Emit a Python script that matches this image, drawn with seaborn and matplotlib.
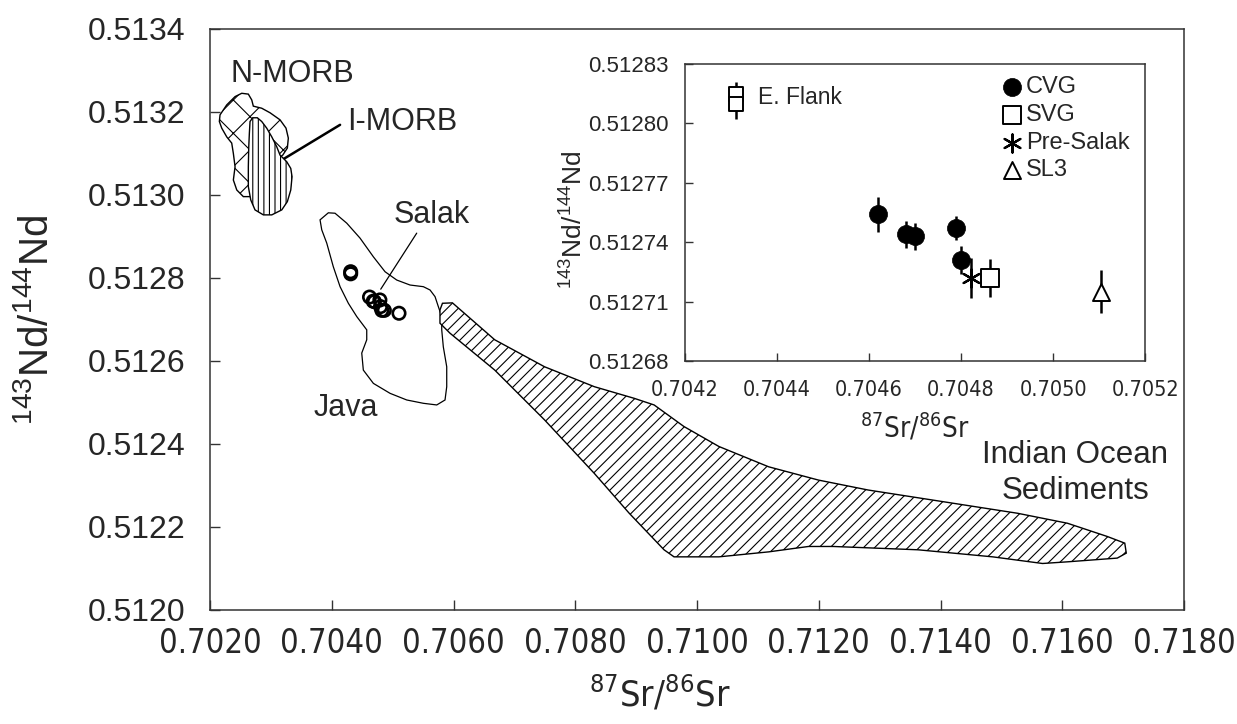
import matplotlib
matplotlib.use("Agg")
import matplotlib.pyplot as plt
import seaborn as sns
from matplotlib import font_manager
from matplotlib.ticker import FixedLocator, FormatStrFormatter

sns.set_style("ticks")
plt.rcParams["font.family"] = ["Liberation Sans", "DejaVu Sans"]
plt.rcParams["mathtext.fontset"] = "custom"
plt.rcParams["mathtext.rm"] = "Liberation Sans"
plt.rcParams["hatch.linewidth"] = 0.8
plt.rcParams["hatch.color"] = "black"


# condensed face for the Sr axes, if one is installed
def find_narrow():
    for fam, stretch in [("Liberation Sans Narrow", "normal"),
                         ("DejaVu Sans", "condensed")]:
        try:
            path = font_manager.findfont(
                font_manager.FontProperties(family=fam, stretch=stretch),
                fallback_to_default=False)
        except ValueError:
            continue
        if "Narrow" in path or "Condensed" in path:
            return fam, stretch
    return None


narrow = find_narrow()
if narrow:
    NARROW = dict(fontfamily=narrow[0], fontstretch=narrow[1])
    SHRINK = 1.0
else:
    NARROW = dict(fontfamily="Liberation Sans")
    SHRINK = 0.9

# ---- Salak samples: 87Sr/86Sr, 143Nd/144Nd and error on Nd ----
eflank_sr = [0.70431, 0.70431]
eflank_nd = [0.512815, 0.512810]
eflank_err = [0.000006, 0.000008]

cvg_sr = [0.70462, 0.70468, 0.70470, 0.70479, 0.70480]
cvg_nd = [0.512754, 0.512744, 0.512743, 0.512747, 0.512731]
cvg_err = [0.0000087, 0.0000067, 0.0000067, 0.000006, 0.000007]

svg_sr = [0.704863]
svg_nd = [0.512722]
svg_err = [0.0000095]

presalak_sr = [0.704822]
presalak_nd = [0.512722]
presalak_err = [0.00001]

sl3_sr = [0.705104]
sl3_nd = [0.512715]
sl3_err = [0.000011]

# ---- reference fields (outlines) ----
java_sr = [0.703807, 0.703943, 0.704053, 0.704246, 0.704464, 0.704683, 0.704875,
           0.705067, 0.705285, 0.705504, 0.705614, 0.705696, 0.705750, 0.705806,
           0.705806, 0.705832, 0.705888, 0.705888, 0.705860, 0.705724, 0.705504,
           0.705231, 0.704957, 0.704683, 0.704518, 0.704492, 0.704574, 0.704574,
           0.704410, 0.704272, 0.704136, 0.704025, 0.703917, 0.703835]
java_nd = [0.512940, 0.512957, 0.512956, 0.512932, 0.512896, 0.512851, 0.512815,
           0.512795, 0.512783, 0.512779, 0.512771, 0.512755, 0.512731, 0.512707,
           0.512675, 0.512634, 0.512586, 0.512538, 0.512506, 0.512494, 0.512498,
           0.512506, 0.512522, 0.512546, 0.512578, 0.512619, 0.512651, 0.512675,
           0.512707, 0.512739, 0.512779, 0.512827, 0.512884, 0.512916]

sed_sr = [0.705818, 0.705982, 0.706677, 0.707495, 0.708313, 0.708967, 0.709295,
          0.709785, 0.710358, 0.711176, 0.711994, 0.712812, 0.714039, 0.715266,
          0.716084, 0.716740, 0.717026, 0.717051, 0.716903, 0.716084, 0.715675,
          0.714857, 0.713630, 0.712239, 0.711830, 0.711176, 0.710358, 0.709622,
          0.709458, 0.708886, 0.708313, 0.707495, 0.706677, 0.705941, 0.705777,
          0.705777]
sed_nd = [0.512739, 0.512740, 0.512651, 0.512586, 0.512538, 0.512510, 0.512494,
          0.512442, 0.512394, 0.512345, 0.512313, 0.512289, 0.512261, 0.512233,
          0.512209, 0.512177, 0.512161, 0.512137, 0.512125, 0.512116, 0.512112,
          0.512128, 0.512145, 0.512153, 0.512153, 0.512140, 0.512128, 0.512128,
          0.512145, 0.512233, 0.512329, 0.512458, 0.512578, 0.512667, 0.512691,
          0.512723]

nmorb_sr = [0.702164, 0.702274, 0.702411, 0.702521, 0.702629, 0.702685, 0.702711,
            0.702849, 0.702986, 0.703150, 0.703248, 0.703286, 0.703270, 0.703194,
            0.703122, 0.702931, 0.702657, 0.702547, 0.702439, 0.702383, 0.702411,
            0.702383, 0.702356, 0.702274, 0.702192, 0.702153]
nmorb_nd = [0.513193, 0.513217, 0.513237, 0.513245, 0.513243, 0.513229, 0.513214,
            0.513209, 0.513198, 0.513181, 0.513161, 0.513137, 0.513113, 0.513096,
            0.513088, 0.513036, 0.512996, 0.512996, 0.513012, 0.513036, 0.513068,
            0.513100, 0.513125, 0.513140, 0.513161, 0.513177]

imorb_sr = [0.702657, 0.702701, 0.702777, 0.702849, 0.702931, 0.703014, 0.703096,
            0.703150, 0.703260, 0.703326, 0.703347, 0.703326, 0.703270, 0.703178,
            0.703014, 0.702876, 0.702739, 0.702669, 0.702629, 0.702629, 0.702636,
            0.702646]
imorb_nd = [0.513177, 0.513186, 0.513186, 0.513177, 0.513161, 0.513140, 0.513116,
            0.513096, 0.513080, 0.513064, 0.513044, 0.513012, 0.512984, 0.512964,
            0.512952, 0.512952, 0.512964, 0.512988, 0.513020, 0.513068, 0.513116,
            0.513149]

main_xticks = [0.7020, 0.7040, 0.7060, 0.7080, 0.7100, 0.7120, 0.7140, 0.7160, 0.7180]
main_yticks = [0.5120, 0.5122, 0.5124, 0.5126, 0.5128, 0.5130, 0.5132, 0.5134]
inset_xticks = [0.7042, 0.7044, 0.7046, 0.7048, 0.7050, 0.7052]
inset_yticks = [0.51268, 0.51271, 0.51274, 0.51277, 0.51280, 0.51283]

all_sr = eflank_sr + cvg_sr + svg_sr + presalak_sr + sl3_sr
all_nd = eflank_nd + cvg_nd + svg_nd + presalak_nd + sl3_nd

SR = r"$^{\mathregular{87}}$Sr/$^{\mathregular{86}}$Sr"
ND = r"$^{\mathregular{143}}$Nd/$^{\mathregular{144}}$Nd"


def style_axes(a, xticks, yticks, xfmt, yfmt, xsize, ysize, ticklen, xpad, ypad):
    a.set_facecolor("white")
    for s in a.spines.values():
        s.set_color("#333333")
        s.set_linewidth(1.1)
        s.set_visible(True)
    a.xaxis.set_major_locator(FixedLocator(xticks))
    a.yaxis.set_major_locator(FixedLocator(yticks))
    a.xaxis.set_major_formatter(FormatStrFormatter(xfmt))
    a.yaxis.set_major_formatter(FormatStrFormatter(yfmt))
    a.tick_params(direction="in", length=ticklen, width=1, color="#333333")
    a.tick_params(axis="x", pad=xpad)
    a.tick_params(axis="y", pad=ypad)
    for lab in a.get_xticklabels():
        lab.set(**NARROW)
        lab.set_fontsize(xsize)
    for lab in a.get_yticklabels():
        lab.set_fontsize(ysize)


fig = plt.figure(figsize=(12.37, 7.24), dpi=100)
ax = fig.add_axes([0.1698, 0.1575, 0.7874, 0.8025])

# fields
ax.fill(nmorb_sr, nmorb_nd, facecolor="white", edgecolor="black", hatch="x", lw=1.0, zorder=2)
ax.fill(imorb_sr, imorb_nd, facecolor="white", edgecolor="black", hatch="|||", lw=1.0, zorder=3)
ax.fill(java_sr, java_nd, facecolor="none", edgecolor="black", lw=0.9, zorder=2)
ax.fill(sed_sr, sed_nd, facecolor="white", edgecolor="black", hatch="///", lw=1.0, zorder=3)

sns.scatterplot(x=all_sr, y=all_nd, ax=ax, marker="o", s=80,
                facecolor="none", edgecolor="black", linewidth=1.9, zorder=5)

ax.set_xlim(0.7020, 0.7180)
ax.set_ylim(0.5120, 0.5134)
style_axes(ax, main_xticks, main_yticks, "%.4f", "%.4f", 23.5 * SHRINK, 23, 7, 12, 18)

ax.set_xlabel(SR, fontsize=26 * SHRINK, **NARROW)
ax.xaxis.set_label_coords(0.462, -0.11)
ax.set_ylabel(ND, fontsize=29)
ax.yaxis.set_label_coords(-0.158, 0.50)

ax.text(0.70233, 0.513292, "N-MORB", fontsize=22, va="center", ha="left")
ax.text(0.70425, 0.513177, "I-MORB", fontsize=22, va="center", ha="left")
ax.plot([0.703178, 0.704136], [0.513084, 0.513169], color="black", lw=1.8)
ax.text(0.705011, 0.512952, "Salak", fontsize=22, va="center", ha="left")
ax.plot([0.705395, 0.704804], [0.512908, 0.512773], color="black", lw=0.9)
ax.text(0.703697, 0.512487, "Java", fontsize=22, va="center", ha="left")
ax.text(0.71621, 0.51233, "Indian Ocean\nSediments", fontsize=22.5,
        va="center", ha="center", multialignment="center", linespacing=1.3)

# ---- inset ----
ins = fig.add_axes([0.5538, 0.5014, 0.3719, 0.4102])
ins.set_zorder(10)

err_kw = dict(fmt="none", ecolor="black", elinewidth=1.8, capsize=0, zorder=3)
ins.errorbar(eflank_sr, eflank_nd, yerr=eflank_err, **err_kw)
ins.errorbar(cvg_sr, cvg_nd, yerr=cvg_err, **err_kw)
ins.errorbar(svg_sr, svg_nd, yerr=svg_err, **err_kw)
ins.errorbar(presalak_sr, presalak_nd, yerr=presalak_err, **err_kw)
ins.errorbar(sl3_sr, sl3_nd, yerr=sl3_err, **err_kw)

sns.scatterplot(x=eflank_sr, y=eflank_nd, ax=ins, marker="s", s=110,
                facecolor="white", edgecolor="black", linewidth=1.4, zorder=4, legend=False)
sns.scatterplot(x=cvg_sr, y=cvg_nd, ax=ins, marker="o", s=170, color="black",
                edgecolor="black", linewidth=0.5, zorder=4, label="CVG")
sns.scatterplot(x=svg_sr, y=svg_nd, ax=ins, marker="s", s=150,
                facecolor="white", edgecolor="black", linewidth=1.4, zorder=4, label="SVG")
sns.scatterplot(x=presalak_sr, y=presalak_nd, ax=ins, marker=(6, 2, 0), s=170,
                color="black", linewidth=1.6, zorder=4, label="Pre-Salak")
sns.scatterplot(x=sl3_sr, y=sl3_nd, ax=ins, marker="^", s=150,
                facecolor="white", edgecolor="black", linewidth=1.4, zorder=4, label="SL3")

ins.set_xlim(0.7042, 0.7052)
ins.set_ylim(0.51268, 0.51283)
style_axes(ins, inset_xticks, inset_yticks, "%.4f", "%.5f", 15.5 * SHRINK, 16, 6, 14, 12)

ins.text(0.704358, 0.512813, "E. Flank", fontsize=16.5, va="center", ha="left")

ins.set_xlabel(SR, fontsize=20 * SHRINK, **NARROW)
ins.xaxis.set_label_coords(0.5, -0.17)
ins.set_ylabel(ND, fontsize=19)
ins.yaxis.set_label_coords(-0.215, 0.475)

ins.legend(loc="upper left", bbox_to_anchor=(0.685, 0.958), frameon=False,
           fontsize=17, handletextpad=0.1, labelspacing=0.24, borderaxespad=0,
           handlelength=1.0, borderpad=0)

fig.savefig("out.png", dpi=100)
